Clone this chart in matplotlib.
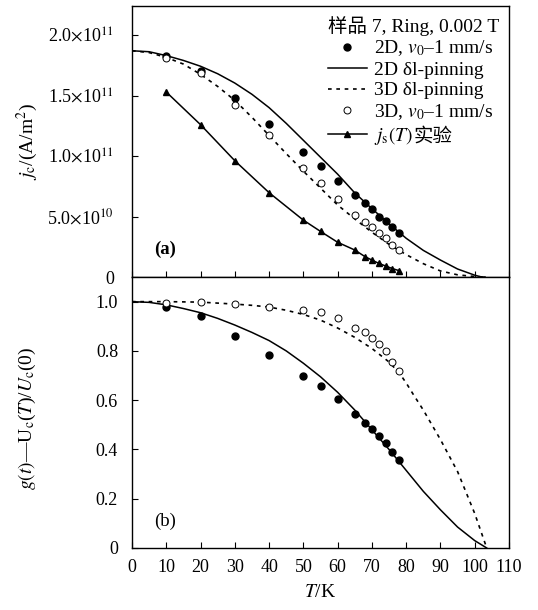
import numpy as np
import matplotlib.pyplot as plt
from matplotlib.transforms import IdentityTransform

plt.rcParams['font.family'] = ['Liberation Serif', 'Noto Sans CJK SC']
plt.rcParams['mathtext.fontset'] = 'stix'
plt.rcParams['font.size'] = 12

# ---- panel (a): jc in units of 1e11 A/m^2 ----
T_2d_pts = [10, 20, 30, 40, 50, 55, 60, 65, 68, 70, 72, 74, 76, 78]
jc_2d_pts = [1.83, 1.705, 1.477, 1.262, 1.033, 0.92, 0.796, 0.678, 0.614, 0.56, 0.50, 0.463, 0.41, 0.361]

T_3d_pts = [10, 20, 30, 40, 50, 55, 60, 65, 68, 70, 72, 74, 76, 78]
jc_3d_pts = [1.807, 1.69, 1.42, 1.173, 0.905, 0.78, 0.642, 0.512, 0.457, 0.416, 0.361, 0.32, 0.264, 0.223]

T_js = [10, 20, 30, 40, 50, 55, 60, 65, 68, 70, 72, 74, 76, 78]
js_exp = [1.529, 1.259, 0.961, 0.697, 0.47, 0.377, 0.287, 0.223, 0.168, 0.14, 0.113, 0.091, 0.069, 0.052]

T_fit_a = [0, 5, 10, 15, 20, 25, 30, 35, 40, 45, 50, 55, 60, 65, 70, 75, 80, 85, 90, 95, 100, 102, 103]
jc_2d_fit = [1.87, 1.862, 1.83, 1.79, 1.742, 1.68, 1.603, 1.51, 1.40, 1.27, 1.13, 0.99, 0.85, 0.695,
             0.565, 0.44, 0.32, 0.22, 0.14, 0.066, 0.015, 0.0, 0.0]
jc_3d_fit = [1.87, 1.855, 1.815, 1.76, 1.675, 1.575, 1.46, 1.32, 1.17, 1.02, 0.875, 0.735, 0.595,
             0.48, 0.37, 0.27, 0.185, 0.11, 0.05, 0.018, 0.004, 0.001, 0.0]

# ---- panel (b): g(t) ----
T_2d_g = [10, 20, 30, 40, 50, 55, 60, 65, 68, 70, 72, 74, 76, 78]
g_2d_pts = [0.978, 0.94, 0.859, 0.782, 0.699, 0.656, 0.604, 0.545, 0.507, 0.482, 0.455, 0.426, 0.391, 0.358]

T_3d_g = [10, 20, 30, 40, 50, 55, 60, 65, 68, 70, 72, 74, 76, 78]
g_3d_pts = [0.995, 0.997, 0.992, 0.978, 0.965, 0.958, 0.934, 0.893, 0.875, 0.852, 0.829, 0.798, 0.757, 0.717]

T_2d_fit_b = [0, 5, 10, 15, 20, 25, 30, 35, 40, 45, 50, 55, 60, 65, 70, 75, 80, 85, 90, 95, 100, 103.5]
g_2d_fit = [1.0, 0.997, 0.987, 0.972, 0.955, 0.932, 0.905, 0.875, 0.842, 0.80, 0.75, 0.695, 0.632,
            0.56, 0.48, 0.40, 0.315, 0.23, 0.155, 0.085, 0.03, 0.0]

T_3d_fit_b = [0, 10, 20, 30, 35, 40, 45, 50, 55, 60, 65, 70, 75, 78, 80, 82, 85, 90, 95, 100, 103.5]
g_3d_fit = [1.0, 1.0, 0.998, 0.99, 0.985, 0.978, 0.965, 0.948, 0.925, 0.893, 0.855, 0.81, 0.755,
            0.71, 0.67, 0.625, 0.56, 0.44, 0.31, 0.14, 0.0]

xticks = list(range(0, 111, 10))
yticks_a = [0, 0.5, 1.0, 1.5, 2.0]
ytick_labels_a = ['0', r'5.0$\times$10$^{10}$', r'1.0$\times$10$^{11}$',
                  r'1.5$\times$10$^{11}$', r'2.0$\times$10$^{11}$']
yticks_b = [0, 0.2, 0.4, 0.6, 0.8, 1.0]
ytick_labels_b = ['0', '0.2', '0.4', '0.6', '0.8', '1.0']

fig = plt.figure(figsize=(5.38, 6.10), dpi=100)
W, H = 538.0, 610.0
ax1 = fig.add_axes([132 / W, (H - 277) / H, 377 / W, 271 / H])
ax2 = fig.add_axes([132 / W, (H - 548) / H, 377 / W, 271 / H])

dash = (0, (2.2, 2.8))
fs_leg = 14

# panel (a)
ax1.plot(T_fit_a, jc_2d_fit, color='black', lw=1.1, label='2D δl-pinning')
ax1.plot(T_fit_a, jc_3d_fit, color='black', lw=1.2, linestyle=dash, label='3D δl-pinning')
ax1.plot(T_2d_pts, jc_2d_pts, 'o', color='black', ms=5, label=r'2D, $v_0$–1 mm/s')
ax1.plot(T_3d_pts, jc_3d_pts, 'o', mfc='white', mec='black', mew=0.7, ms=5, label=r'3D, $v_0$–1 mm/s')
ax1.plot(T_js, js_exp, '-^', color='black', lw=1.1, ms=5, label=r'$j_{\rm s}(T)$')

handles, labels = ax1.get_legend_handles_labels()
order = [2, 0, 1, 3, 4]
leg = ax1.legend([handles[i] for i in order], [labels[i] for i in order],
                 title='样品 7, Ring, 0.002 T', loc='upper right', frameon=False,
                 bbox_to_anchor=(1.0, 1.0), handlelength=2.0, labelspacing=0.15,
                 handletextpad=0.35, borderpad=0.3, borderaxespad=0.2,
                 fontsize=fs_leg, title_fontsize=fs_leg)
leg._legend_box.align = 'left'

ax1.set_xlim(0, 110)
ax1.set_ylim(0, 2.24)
ax1.set_xticks(xticks)
ax1.set_xticklabels([])
ax1.set_yticks(yticks_a)
ax1.set_yticklabels(ytick_labels_a)
ax1.set_ylabel(r'$j_{\rm c}$/(A/m$^2$)', fontsize=14)
ax1.yaxis.set_label_coords(-0.245, 0.5)
ax1.text(0.06, 0.085, '(a)', transform=ax1.transAxes, fontsize=13.5, fontweight='bold')

# panel (b)
ax2.plot(T_2d_fit_b, g_2d_fit, color='black', lw=1.1)
ax2.plot(T_3d_fit_b, g_3d_fit, color='black', lw=1.2, linestyle=dash)
ax2.plot(T_2d_g, g_2d_pts, 'o', color='black', ms=5)
ax2.plot(T_3d_g, g_3d_pts, 'o', mfc='white', mec='black', mew=0.7, ms=5)

ax2.set_xlim(0, 110)
ax2.set_ylim(0, 1.1)
ax2.set_xticks(xticks)
ax2.set_yticks(yticks_b)
ax2.set_yticklabels(ytick_labels_b)
ax2.set_xlabel(r'$T$/K', fontsize=14, labelpad=6)
ax2.set_ylabel(r'$g(t)$—U$_{\rm c}$($T$)/$U_{\rm c}$(0)', fontsize=14)
ax2.yaxis.set_label_coords(-0.25, 0.48)
ax2.text(0.06, 0.08, '(b)', transform=ax2.transAxes, fontsize=13.5)

ax1.tick_params(axis='y', pad=13)
ax2.tick_params(axis='y', pad=10)
ax2.tick_params(axis='x', pad=8)
for ax in (ax1, ax2):
    ax.tick_params(direction='in', length=4, width=0.8, labelsize=13)
    for sp in ax.spines.values():
        sp.set_linewidth(1.0)

# the CJK part of the last legend label is drawn as plain text right after the math part
fig.canvas.draw()
bb = leg.get_texts()[4].get_window_extent()
fig.text(bb.x1 + 1, (bb.y0 + bb.y1) / 2, '实验', transform=IdentityTransform(),
         fontsize=fs_leg, va='center', ha='left', family=['Noto Sans CJK SC'])

fig.savefig('out.png', dpi=100, facecolor='white')
